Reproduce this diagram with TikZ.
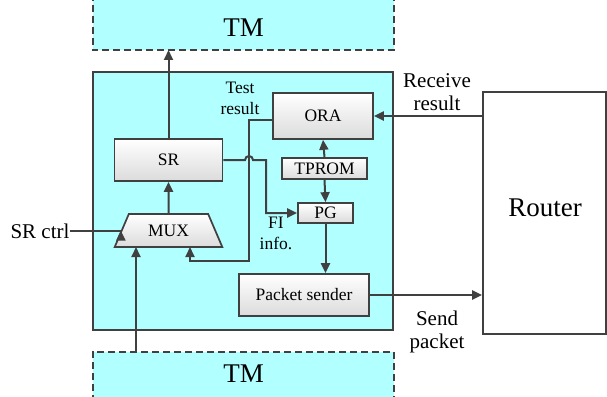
\documentclass[tikz,border=0pt]{standalone}
\usepackage{fontspec}
\setmainfont{Liberation Serif}
\usetikzlibrary{arrows.meta,shapes.geometric}
\definecolor{tmcyan}{RGB}{178,255,255}
\definecolor{wire}{RGB}{64,64,64}
\begin{document}
\begin{tikzpicture}[x=1pt,y=-1pt,
  blk/.style={draw=wire, line width=1.7pt, top color=white, bottom color=black!14,
    font=\fontsize{17.5}{21}\selectfont, inner sep=0pt},
  flow/.style={draw=wire, line width=2pt, -{Triangle[length=10pt,width=9pt]}},
  tmedge/.style={draw=wire, line width=2pt, dash pattern=on 7pt off 4pt},
  lbl/.style={font=\fontsize{17.5}{21}\selectfont, align=center, inner sep=0pt},
  big/.style={font=\fontsize{21}{23.5}\selectfont, align=center, inner sep=0pt},
  huge/.style={font=\fontsize{27}{32}\selectfont, inner sep=0pt}]
\useasboundingbox (0,0) rectangle (607,396);

% test memories above and below
\node[fill=tmcyan, minimum width=301pt, minimum height=56pt, inner sep=0pt, anchor=south] (tmt) at (243.5,50) {};
\draw[tmedge] (tmt.north west) -- (tmt.south west) -- (tmt.south east) -- (tmt.north east);
\node[huge] (tmtl) at (243.5,28) {TM};
\node[fill=tmcyan, minimum width=301pt, minimum height=50pt, inner sep=0pt, anchor=north] (tmb) at (243.5,352) {};
\draw[tmedge] (tmb.south west) -- (tmb.north west) -- (tmb.north east) -- (tmb.south east);
\node[huge] (tmbl) at (243.5,374) {TM};

% wrapper region
\node[draw=wire, line width=1.7pt, fill=tmcyan, minimum width=300pt, minimum height=258pt, inner sep=0pt] (wrap) at (243,201) {};

% router
\node[draw=wire, line width=1.7pt, fill=white, minimum width=123pt, minimum height=242pt, inner sep=0pt] (rt) at (544.5,213) {};
\node[huge] (rtl) at (545,208) {Router};

% blocks
\node[blk, minimum width=108pt, minimum height=42pt] (sr) at (168.5,160) {SR};
\node[blk, minimum width=100pt, minimum height=46pt] (ora) at (323,116) {ORA};
\node[blk, minimum width=85pt, minimum height=21pt] (tprom) at (324.5,168.5) {TPROM};
\node[blk, minimum width=55pt, minimum height=20pt] (pg) at (325.5,213) {PG};
\node[blk, minimum width=130pt, minimum height=42pt] (ps) at (304,295) {Packet sender};
\node[blk, trapezium, trapezium stretches=true, trapezium left angle=58, trapezium right angle=58,
  minimum width=108pt, minimum height=33pt] (mux) at (168.5,230.5) {MUX};

% labels
\node[big] (srctrl) at (40,231) {SR ctrl};
\node[lbl] (test) at (240,98) {Test\\result};
\node[lbl] (fi) at (276,233) {FI\\info.};
\node[big] (recv) at (437,92) {Receive\\result};
\node[big] (send) at (437,332) {Send\\packet};

% MUX inputs
\coordinate (m1) at (136,247);
\coordinate (m2) at (190,247);

% connectors
\draw[flow] (sr.north) -- (sr.north |- tmt.south);
\draw[flow] (mux.north) -- (sr.south);
\draw[flow] (srctrl.east) -- (srctrl.east -| mux.west) -- (mux.west);
\draw[flow] (tmb.north -| m1) -- (m1);
\draw[flow] ([yshift=-4pt]ora.west) -| (249,261) -| (m2);
\draw[flow] (sr.east) -- (245,160) arc[start angle=180, end angle=0, radius=4pt] -- (266,160) |- (pg.west);
\draw[flow] (tprom.north) -- (ora.south);
\draw[flow] (tprom.south) -- (pg.north);
\draw[flow] (pg.south) -- (pg.south |- ps.north);
\draw[flow] (ps.east) -- (ps.east -| rt.west);
\draw[flow] (rt.west |- ora.east) -- (ora.east);
\end{tikzpicture}
\end{document}
